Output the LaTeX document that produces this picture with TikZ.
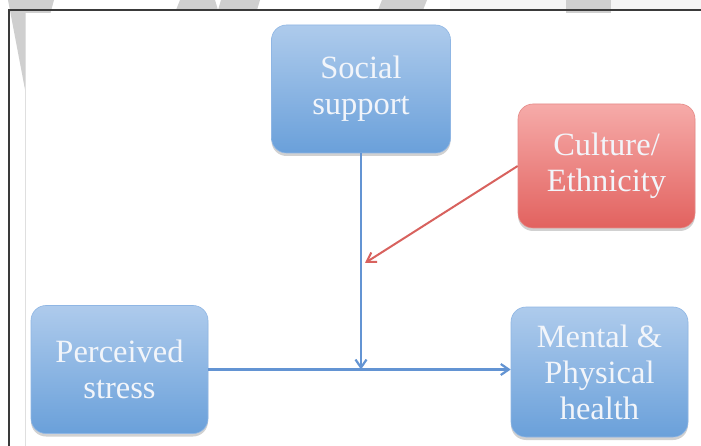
\documentclass[tikz,border=0pt]{standalone}
\usepackage{fontspec}
\setmainfont{Liberation Serif}
\usetikzlibrary{arrows.meta,shadows}

\definecolor{boxtext}{HTML}{F2F5FA}
\definecolor{bluetop}{HTML}{AECBEC}
\definecolor{bluebot}{HTML}{6AA0DA}
\definecolor{blueedge}{HTML}{8FB6E4}
\definecolor{redtop}{HTML}{F6ABA9}
\definecolor{redbot}{HTML}{E2625F}
\definecolor{rededge}{HTML}{E58A87}
\definecolor{bluelink}{HTML}{6394D3}
\definecolor{redlink}{HTML}{D8625E}
\definecolor{wmark}{HTML}{CFCFCF}
\definecolor{framecol}{HTML}{3A3A3A}

\begin{document}
\begin{tikzpicture}[x=1pt,y=-1pt,
  card/.style={rectangle, rounded corners=15pt, align=center, text=boxtext,
    font=\fontsize{32.5}{36}\selectfont, inner sep=0pt,
    draw=blueedge, line width=0.6pt,
    top color=bluetop, bottom color=bluebot,
    minimum width=177pt, minimum height=128pt,
    drop shadow={shadow xshift=0pt, shadow yshift=-3pt, opacity=0.18, fill=black}},
  redcard/.style={card, draw=rededge, top color=redtop, bottom color=redbot},
  link/.style={draw=bluelink, line width=2.2pt,
    -{Straight Barb[length=8pt,width=11pt]}},
  modlink/.style={draw=redlink, line width=2pt,
    -{Straight Barb[length=9pt,width=11pt]}},
  wm/.style={fill=wmark, draw=none}]

  % page and surrounding watermark letters
  \useasboundingbox (0,0) rectangle (701,446);
  \fill[white] (0,0) rectangle (701,446);
  \fill[gray!8] (450,0) rectangle (701,9);
  \fill[wm] (8,0) -- (54,0) -- (27,100) -- cycle;
  \fill[wm] (180,0) -- (215,0) -- (218,10) -- (221,0) -- (260,0) -- (257,10) -- (176,10) -- cycle;
  \fill[wm] (382,0) -- (427,0) -- (423,10) -- (378,10) -- cycle;
  \fill[wm] (566,0) rectangle (611,14);

  % figure area
  \fill[white] (26,13) rectangle (701,446);
  \draw[gray!25, line width=0.8pt] (25.5,13) -- (25.5,446);
  \draw[framecol, line width=1.5pt] (9,446) -- (9,10) -- (701,10);

  % boxes
  \node[card, minimum width=179pt] (social) at (361,89) {Social\\support};
  \node[redcard, minimum height=124pt] (culture) at (606.5,166) {Culture/\\Ethnicity};
  \node[card] (stress) at (119.5,369.5) {Perceived\\stress};
  \node[card, minimum height=130pt] (health) at (599.5,372) {Mental \&\\Physical\\health};

  % connectors
  \coordinate (mod) at (365,263);
  \draw[link] (stress.east) -- (stress.east -| health.west);
  \draw[link] (social.south) -- (social.south |- stress.east);
  \draw[modlink] (culture.west) -- (mod);
\end{tikzpicture}
\end{document}
